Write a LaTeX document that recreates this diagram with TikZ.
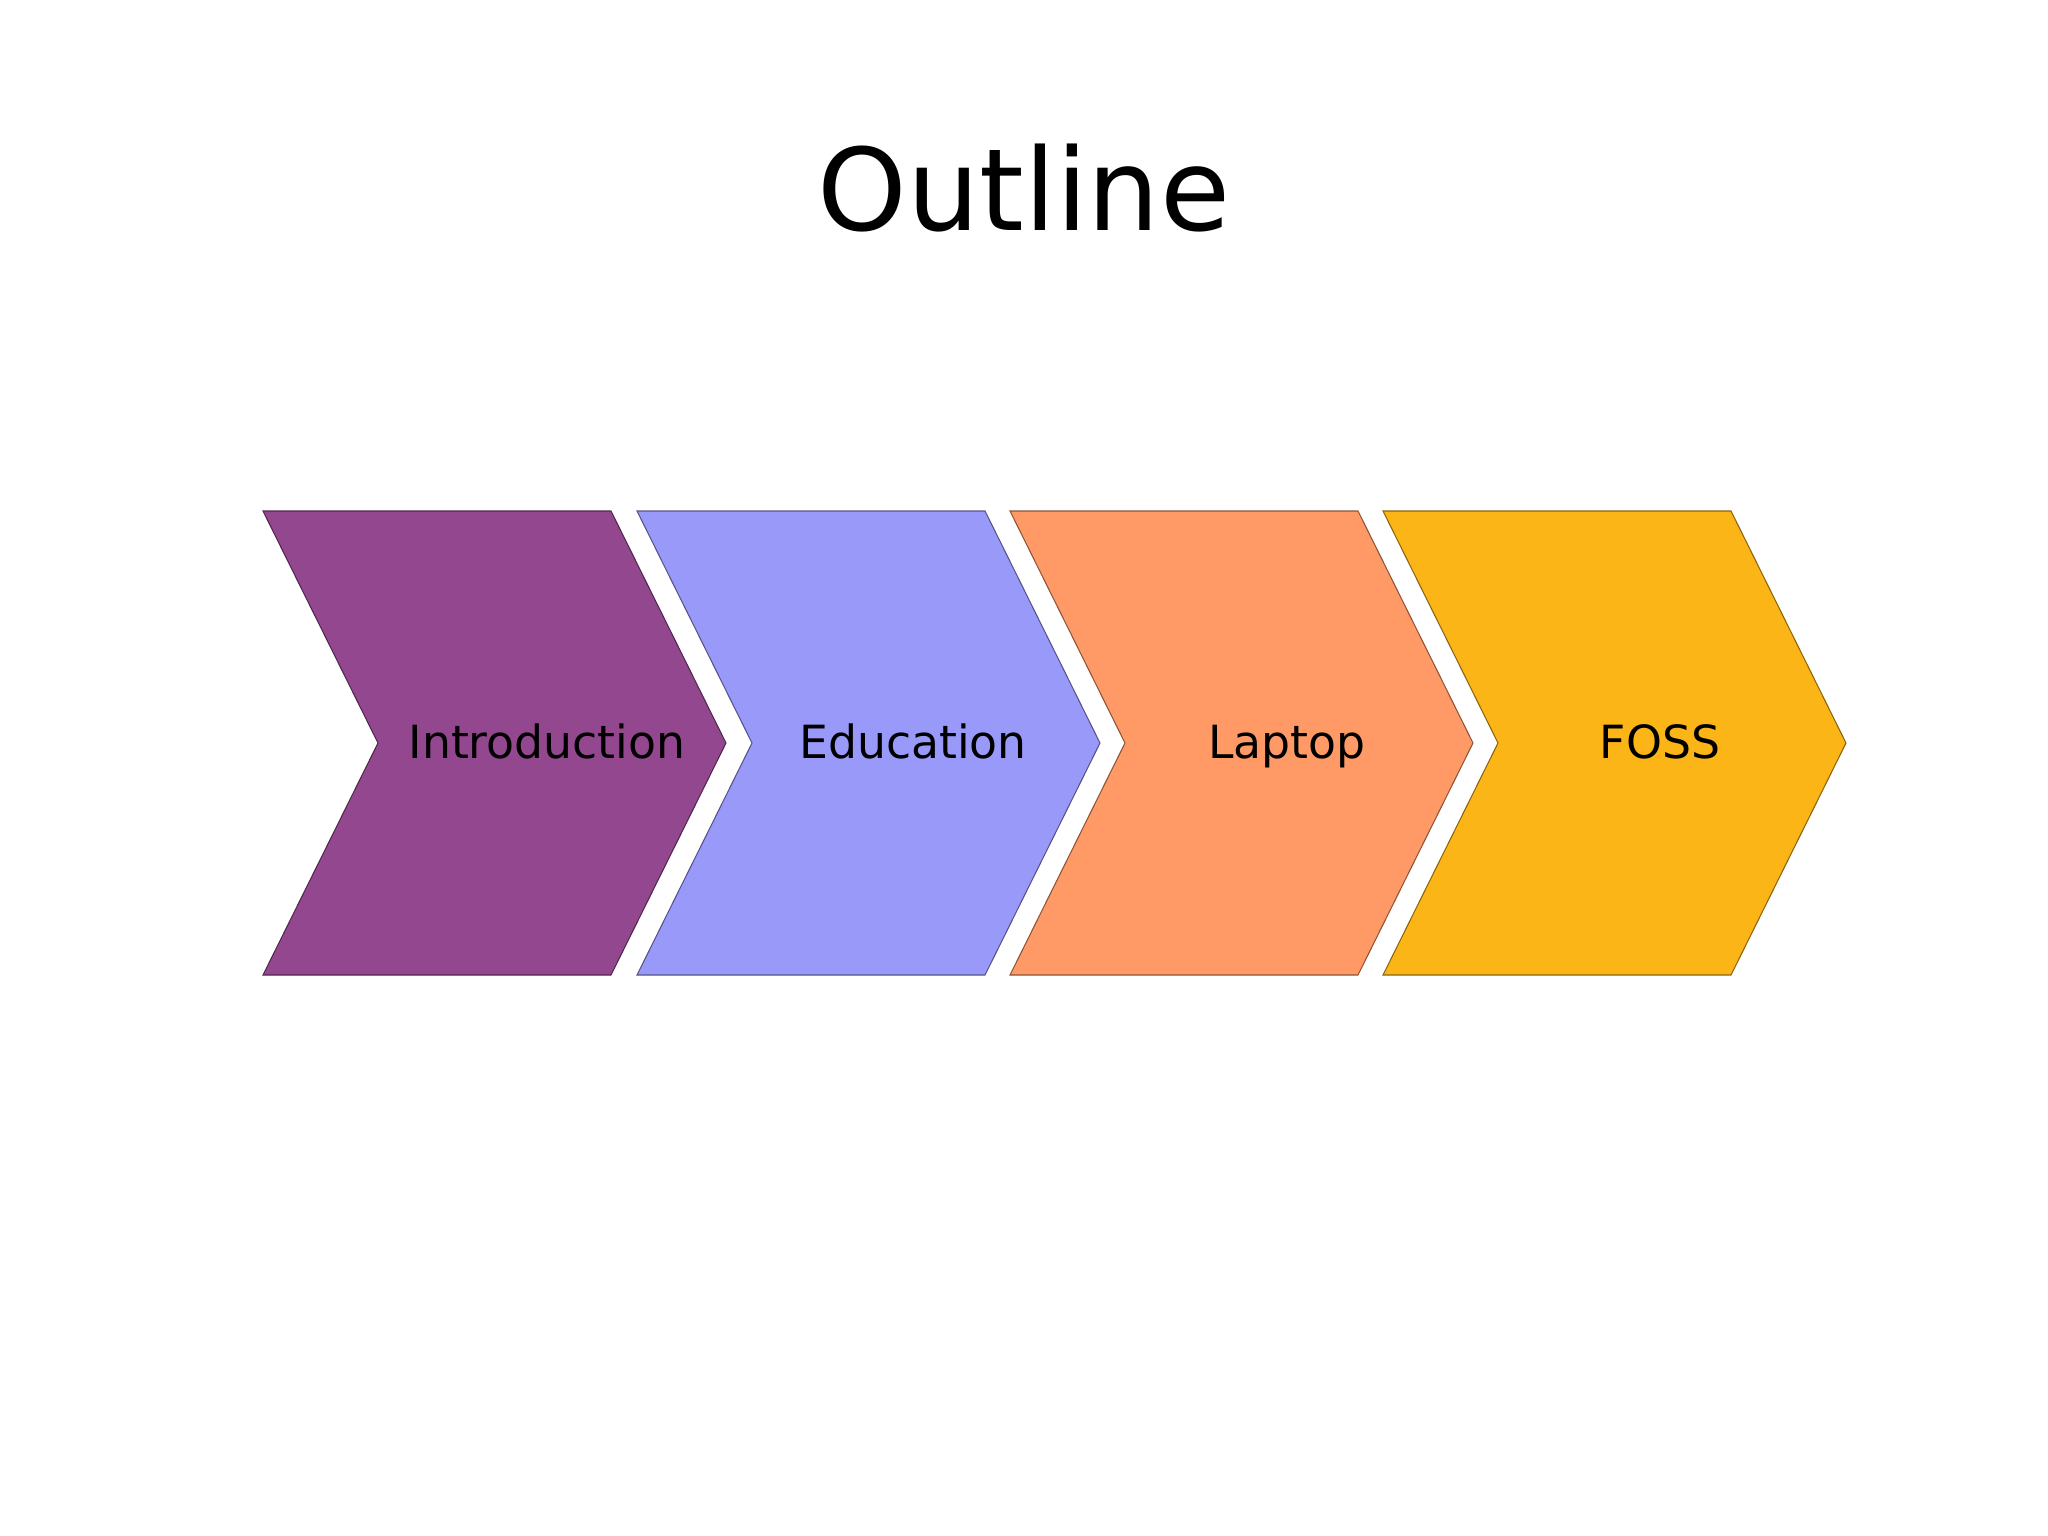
\documentclass[tikz,border=0pt]{standalone}
\usepackage{fontspec}
\setmainfont{DejaVu Sans}
\usepackage{xcolor}

\definecolor{introcol}{HTML}{93478F}
\definecolor{educol}{HTML}{9999FA}
\definecolor{lapcol}{HTML}{FF9966}
\definecolor{fosscol}{HTML}{FCB517}

\tikzset{
	chevron/.style={line width=0.3pt},
	steplabel/.style={anchor=base,font=\fontsize{13}{16}\selectfont}
}

\begin{document}
\begin{tikzpicture}[x=0.01cm,y=-0.01cm]
	\useasboundingbox (0,0) rectangle (2048,1535);
	
	\node[anchor=base,font=\fontsize{32.4}{40}\selectfont] (title) at (1024,230) {Outline};
	
	\foreach \x/\c/\t/\n/\o in {263/introcol/Introduction/intro/284,637/educol/Education/edu/276,1010/lapcol/Laptop/lap/277,1383/fosscol/FOSS/foss/277}{
		\draw[chevron,fill=\c,draw=\c!55!black] (\x,511) -- ++(348,0) -- ++(115,232) -- ++(-115,232) -- ++(-348,0) -- ++(115,-232) -- cycle;
		\node[steplabel] (\n) at (\x+\o,758) {\t};
	}
	
\end{tikzpicture}
\end{document}
